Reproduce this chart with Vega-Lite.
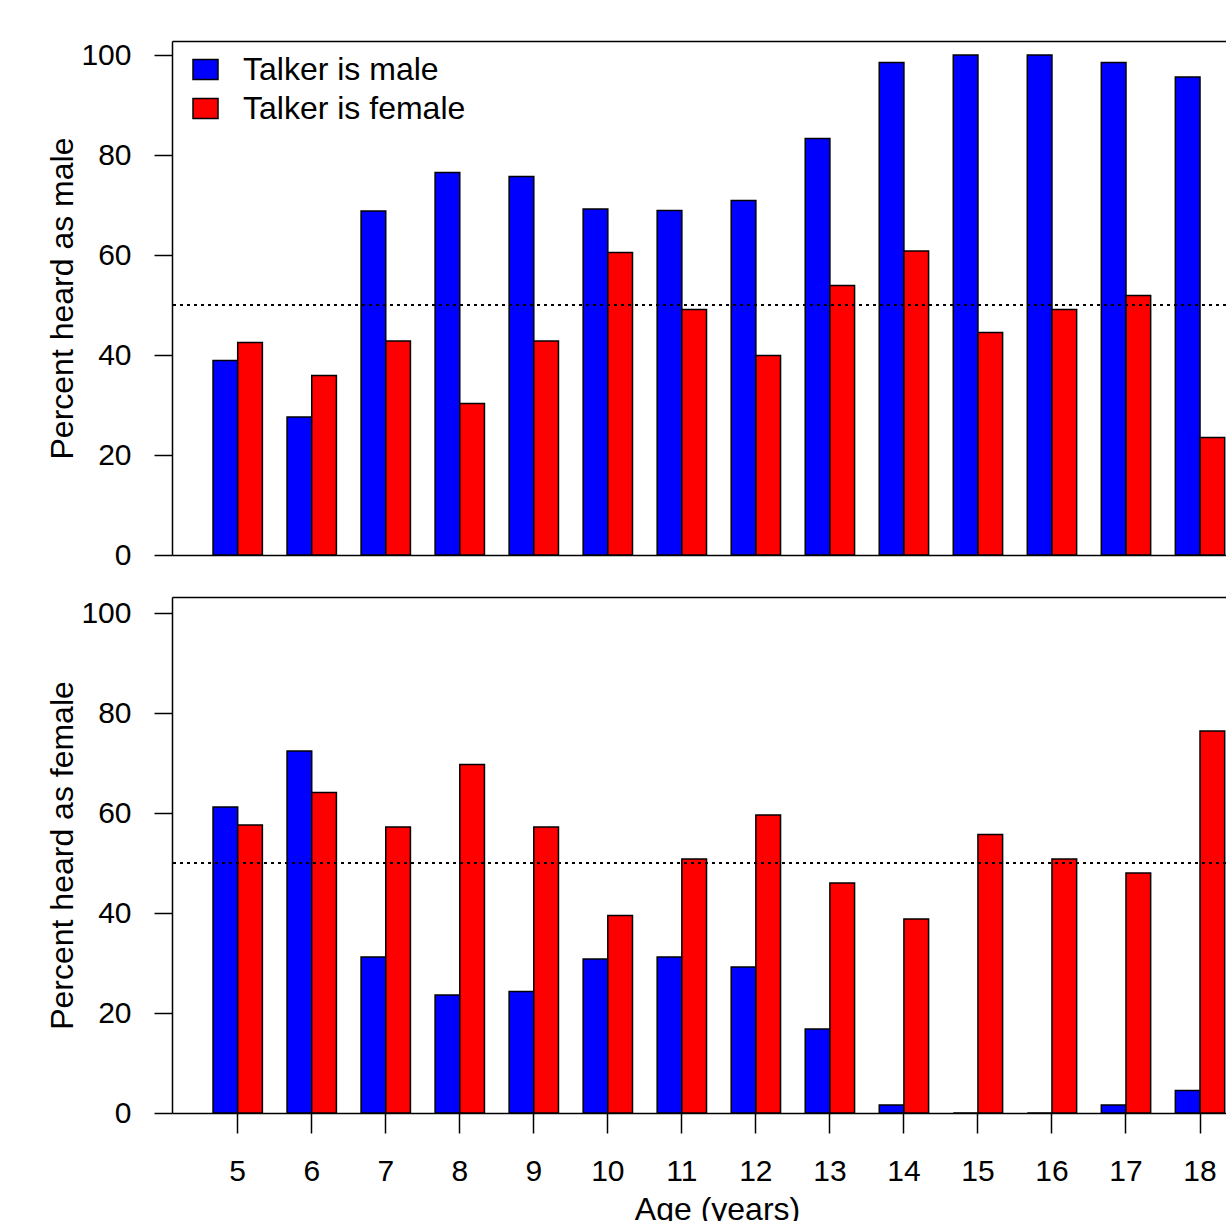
{
  "$schema": "https://vega.github.io/schema/vega-lite/v6.json",
  "padding": {"left": 46, "top": 40, "right": 0, "bottom": 0},
  "background": "white",
  "config": {
    "font": "Liberation Sans",
    "view": {"stroke": null},
    "axis": {"grid": false, "domainColor": "black", "domainWidth": 1.5, "tickColor": "black", "tickWidth": 1.5, "labelColor": "black", "titleColor": "black", "labelFont": "Liberation Sans", "titleFont": "Liberation Sans", "titleFontWeight": "normal"}
  },
  "spacing": 27,
  "datasets": {
    "pct": [
      {"age": 5, "talker": "Talker is male", "heard": "male", "pct": 38.9},
      {"age": 5, "talker": "Talker is female", "heard": "male", "pct": 42.5},
      {"age": 6, "talker": "Talker is male", "heard": "male", "pct": 27.6},
      {"age": 6, "talker": "Talker is female", "heard": "male", "pct": 35.9},
      {"age": 7, "talker": "Talker is male", "heard": "male", "pct": 68.8},
      {"age": 7, "talker": "Talker is female", "heard": "male", "pct": 42.8},
      {"age": 8, "talker": "Talker is male", "heard": "male", "pct": 76.5},
      {"age": 8, "talker": "Talker is female", "heard": "male", "pct": 30.3},
      {"age": 9, "talker": "Talker is male", "heard": "male", "pct": 75.7},
      {"age": 9, "talker": "Talker is female", "heard": "male", "pct": 42.8},
      {"age": 10, "talker": "Talker is male", "heard": "male", "pct": 69.2},
      {"age": 10, "talker": "Talker is female", "heard": "male", "pct": 60.5},
      {"age": 11, "talker": "Talker is male", "heard": "male", "pct": 68.9},
      {"age": 11, "talker": "Talker is female", "heard": "male", "pct": 49.1},
      {"age": 12, "talker": "Talker is male", "heard": "male", "pct": 70.9},
      {"age": 12, "talker": "Talker is female", "heard": "male", "pct": 39.9},
      {"age": 13, "talker": "Talker is male", "heard": "male", "pct": 83.3},
      {"age": 13, "talker": "Talker is female", "heard": "male", "pct": 53.9},
      {"age": 14, "talker": "Talker is male", "heard": "male", "pct": 98.5},
      {"age": 14, "talker": "Talker is female", "heard": "male", "pct": 60.8},
      {"age": 15, "talker": "Talker is male", "heard": "male", "pct": 100},
      {"age": 15, "talker": "Talker is female", "heard": "male", "pct": 44.5},
      {"age": 16, "talker": "Talker is male", "heard": "male", "pct": 100},
      {"age": 16, "talker": "Talker is female", "heard": "male", "pct": 49.1},
      {"age": 17, "talker": "Talker is male", "heard": "male", "pct": 98.5},
      {"age": 17, "talker": "Talker is female", "heard": "male", "pct": 51.9},
      {"age": 18, "talker": "Talker is male", "heard": "male", "pct": 95.6},
      {"age": 18, "talker": "Talker is female", "heard": "male", "pct": 23.5},
      {"age": 5, "talker": "Talker is male", "heard": "female", "pct": 61.2},
      {"age": 5, "talker": "Talker is female", "heard": "female", "pct": 57.6},
      {"age": 6, "talker": "Talker is male", "heard": "female", "pct": 72.4},
      {"age": 6, "talker": "Talker is female", "heard": "female", "pct": 64.1},
      {"age": 7, "talker": "Talker is male", "heard": "female", "pct": 31.2},
      {"age": 7, "talker": "Talker is female", "heard": "female", "pct": 57.2},
      {"age": 8, "talker": "Talker is male", "heard": "female", "pct": 23.6},
      {"age": 8, "talker": "Talker is female", "heard": "female", "pct": 69.7},
      {"age": 9, "talker": "Talker is male", "heard": "female", "pct": 24.3},
      {"age": 9, "talker": "Talker is female", "heard": "female", "pct": 57.2},
      {"age": 10, "talker": "Talker is male", "heard": "female", "pct": 30.8},
      {"age": 10, "talker": "Talker is female", "heard": "female", "pct": 39.5},
      {"age": 11, "talker": "Talker is male", "heard": "female", "pct": 31.2},
      {"age": 11, "talker": "Talker is female", "heard": "female", "pct": 50.8},
      {"age": 12, "talker": "Talker is male", "heard": "female", "pct": 29.2},
      {"age": 12, "talker": "Talker is female", "heard": "female", "pct": 59.6},
      {"age": 13, "talker": "Talker is male", "heard": "female", "pct": 16.8},
      {"age": 13, "talker": "Talker is female", "heard": "female", "pct": 46.0},
      {"age": 14, "talker": "Talker is male", "heard": "female", "pct": 1.6},
      {"age": 14, "talker": "Talker is female", "heard": "female", "pct": 38.8},
      {"age": 15, "talker": "Talker is male", "heard": "female", "pct": 0},
      {"age": 15, "talker": "Talker is female", "heard": "female", "pct": 55.7},
      {"age": 16, "talker": "Talker is male", "heard": "female", "pct": 0},
      {"age": 16, "talker": "Talker is female", "heard": "female", "pct": 50.8},
      {"age": 17, "talker": "Talker is male", "heard": "female", "pct": 1.6},
      {"age": 17, "talker": "Talker is female", "heard": "female", "pct": 48.0},
      {"age": 18, "talker": "Talker is male", "heard": "female", "pct": 4.5},
      {"age": 18, "talker": "Talker is female", "heard": "female", "pct": 76.4}
    ]
  },
  "vconcat": [
    {
      "width": 1054,
      "height": 514,
      "data": {"name": "pct"},
      "transform": [{"filter": "datum.heard == 'male'"}],
      "layer": [
        {
          "mark": {"type": "bar", "stroke": "black", "strokeWidth": 1.5, "cornerRadius": 0},
          "encoding": {
            "x": {"field": "age", "type": "ordinal", "scale": {"paddingInner": 0.3333, "paddingOuter": 0.286, "align": 0.969},
                  "axis": {"orient": "bottom", "labels": false, "ticks": false, "domain": true, "title": null}},
            "xOffset": {"field": "talker", "type": "nominal", "sort": ["Talker is male", "Talker is female"], "scale": {"paddingInner": 0, "paddingOuter": 0}},
            "y": {"field": "pct", "type": "quantitative", "scale": {"domain": [0, 102.8], "nice": false, "zero": true},
                  "axis": {"values": [0, 20, 40, 60, 80, 100], "tickSize": 18, "labelFontSize": 30, "labelPadding": 23, "labelFlush": false, "labelOverlap": false,
                           "title": "Percent heard as male", "titleFontSize": 32, "titleX": -100, "titleBaseline": "alphabetic", "titleAngle": 270, "titleAlign": "center"}},
            "color": {"field": "talker", "type": "nominal", "sort": ["Talker is male", "Talker is female"],
                      "scale": {"domain": ["Talker is male", "Talker is female"], "range": ["#0000FF", "#FF0000"]},
                      "legend": {"orient": "none", "legendX": 17.5, "legendY": 12.5, "title": null, "padding": 0,
                                 "symbolType": "M-1.25,-1L1.25,-1L1.25,1L-1.25,1Z", "symbolSize": 400, "symbolStrokeColor": "black", "symbolStrokeWidth": 1.5, "symbolOpacity": 1,
                                 "labelFontSize": 32, "labelColor": "black", "labelFont": "Liberation Sans", "labelOffset": 21.5, "rowPadding": 7, "labelLimit": 600}}
          }
        },
        {
          "mark": {"type": "rule", "strokeDash": [3, 4], "strokeWidth": 2, "color": "black"},
          "encoding": {"y": {"datum": 50}}
        },
        {
          "mark": {"type": "bar", "opacity": 0},
          "encoding": {
            "x": {"field": "age", "type": "ordinal", "axis": {"orient": "top", "labels": false, "ticks": false, "domain": true, "title": null}}
          }
        }
      ],
      "resolve": {"axis": {"x": "independent"}}
    },
    {
      "width": 1054,
      "height": 516,
      "data": {"name": "pct"},
      "transform": [{"filter": "datum.heard == 'female'"}],
      "layer": [
        {
          "mark": {"type": "bar", "stroke": "black", "strokeWidth": 1.5, "cornerRadius": 0},
          "encoding": {
            "x": {"field": "age", "type": "ordinal", "scale": {"paddingInner": 0.3333, "paddingOuter": 0.286, "align": 0.969},
                  "axis": {"orient": "bottom", "labels": true, "ticks": true, "tickSize": 20, "labelFontSize": 30, "labelPadding": 23, "labelAngle": 0,
                           "title": "Age (years)", "titleFontSize": 32, "titleX": 545, "titleY": 106, "titleBaseline": "alphabetic", "titleAlign": "center", "titleAnchor": "start"}},
            "xOffset": {"field": "talker", "type": "nominal", "sort": ["Talker is male", "Talker is female"], "scale": {"paddingInner": 0, "paddingOuter": 0}},
            "y": {"field": "pct", "type": "quantitative", "scale": {"domain": [0, 103.2], "nice": false, "zero": true},
                  "axis": {"values": [0, 20, 40, 60, 80, 100], "tickSize": 18, "labelFontSize": 30, "labelPadding": 23, "labelFlush": false, "labelOverlap": false,
                           "title": "Percent heard as female", "titleFontSize": 32, "titleX": -100, "titleBaseline": "alphabetic", "titleAngle": 270, "titleAlign": "center"}},
            "color": {"field": "talker", "type": "nominal", "sort": ["Talker is male", "Talker is female"],
                      "scale": {"domain": ["Talker is male", "Talker is female"], "range": ["#0000FF", "#FF0000"]},
                      "legend": null}
          }
        },
        {
          "mark": {"type": "rule", "strokeDash": [3, 4], "strokeWidth": 2, "color": "black"},
          "encoding": {"y": {"datum": 50}}
        },
        {
          "mark": {"type": "bar", "opacity": 0},
          "encoding": {
            "x": {"field": "age", "type": "ordinal", "axis": {"orient": "top", "labels": false, "ticks": false, "domain": true, "title": null}}
          }
        }
      ],
      "resolve": {"axis": {"x": "independent"}}
    }
  ]
}
